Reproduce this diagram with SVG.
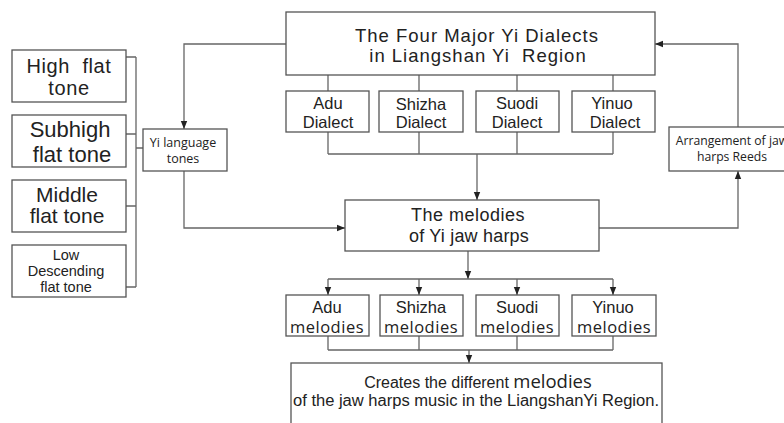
<svg xmlns="http://www.w3.org/2000/svg" width="784" height="423" viewBox="0 0 784 423">
<style>
.box{fill:#fff;stroke:#555;stroke-width:1.3}
.ln{fill:none;stroke:#666;stroke-width:1.3}
.t{font-family:"Liberation Sans",Arial,sans-serif;fill:#222;text-anchor:middle}
.o{font-family:"Open Sans","Liberation Sans",sans-serif;fill:#222;text-anchor:middle}
</style>
<defs>
<marker id="ah" viewBox="0 0 8 8" refX="8" refY="4" markerWidth="8" markerHeight="8" markerUnits="userSpaceOnUse" orient="auto">
<path d="M0,0.8 L8,4 L0,7.2 Z" fill="#222"/>
</marker>
</defs>
<rect width="784" height="423" fill="#fff"/>
<g id="connectors">
<path class="ln" d="M286,44 H184 V129" marker-end="url(#ah)"/>
<path class="ln" d="M328,75 V91 M419,75 V91 M517,75 V91 M613,75 V91"/>
<path class="ln" d="M328,132 V154 M419,132 V154 M517,132 V154 M613,132 V154 M328,154 H613"/>
<path class="ln" d="M477,154 V200" marker-end="url(#ah)"/>
<path class="ln" d="M184,171 V228 H345" marker-end="url(#ah)"/>
<path class="ln" d="M599,228 H738 V171" marker-end="url(#ah)"/>
<path class="ln" d="M738,127 V44 H655" marker-end="url(#ah)"/>
<path class="ln" d="M468,251 V279" marker-end="url(#ah)"/>
<path class="ln" d="M328,279 H613"/>
<path class="ln" d="M328,279 V295" marker-end="url(#ah)"/>
<path class="ln" d="M419,279 V295" marker-end="url(#ah)"/>
<path class="ln" d="M517,279 V295" marker-end="url(#ah)"/>
<path class="ln" d="M613,279 V295" marker-end="url(#ah)"/>
<path class="ln" d="M328,336 V350 M419,336 V350 M517,336 V350 M613,336 V350 M328,350 H613"/>
<path class="ln" d="M469,350 V363" marker-end="url(#ah)"/>
<path class="ln" d="M126,57 H136 M126,134 H136 M126,206 H136 M126,287 H136 M136,57 V287 M136,148 H143"/>
</g>
<g id="high-flat-tone">
<rect class="box" x="12" y="50" width="114" height="52"/>
<text class="t" x="69" y="73" font-size="20" letter-spacing="0.6" xml:space="preserve">High  flat</text>
<text class="t" x="69" y="95" font-size="20" letter-spacing="0.6">tone</text>
</g>
<g id="subhigh-flat-tone">
<rect class="box" x="12" y="115" width="114" height="52"/>
<text class="t" x="70" y="137" font-size="22">Subhigh</text>
<text class="t" x="72" y="162" font-size="22">flat tone</text>
</g>
<g id="middle-flat-tone">
<rect class="box" x="12" y="180" width="114" height="52"/>
<text class="t" x="67" y="202" font-size="21">Middle</text>
<text class="t" x="67" y="223" font-size="21">flat tone</text>
</g>
<g id="low-descending-flat-tone">
<rect class="box" x="12" y="245" width="114" height="52"/>
<text class="t" x="66" y="260" font-size="14.5">Low</text>
<text class="t" x="66" y="276" font-size="14.5">Descending</text>
<text class="t" x="66" y="292" font-size="14.5">flat tone</text>
</g>
<g id="yi-language-tones">
<rect class="box" x="143" y="129" width="84" height="42"/>
<text class="o" x="183" y="147" font-size="12.5">Yi language</text>
<text class="o" x="183" y="163" font-size="12.5">tones</text>
</g>
<g id="four-dialects">
<rect class="box" x="286" y="12" width="369" height="63"/>
<text class="t" x="477" y="42" font-size="18.5" letter-spacing="1">The Four Major Yi Dialects</text>
<text class="t" x="478" y="62" font-size="18.5" letter-spacing="1" xml:space="preserve">in Liangshan Yi  Region</text>
</g>
<g id="adu-dialect">
<rect class="box" x="286" y="91" width="83" height="41"/>
<text class="t" x="328" y="109" font-size="16.5">Adu</text>
<text class="t" x="328" y="128" font-size="16.5">Dialect</text>
</g>
<g id="shizha-dialect">
<rect class="box" x="379" y="91" width="84" height="41"/>
<text class="t" x="421" y="110" font-size="16.5">Shizha</text>
<text class="t" x="421" y="128" font-size="16.5">Dialect</text>
</g>
<g id="suodi-dialect">
<rect class="box" x="476" y="91" width="83" height="41"/>
<text class="t" x="517" y="109" font-size="16.5">Suodi</text>
<text class="t" x="517" y="128" font-size="16.5">Dialect</text>
</g>
<g id="yinuo-dialect">
<rect class="box" x="572" y="91" width="83" height="41"/>
<text class="t" x="612" y="109" font-size="16.5">Yinuo</text>
<text class="t" x="615" y="128" font-size="16.5">Dialect</text>
</g>
<g id="arrangement">
<rect class="box" x="669" y="127" width="126" height="44"/>
<text class="o" x="732" y="145" font-size="12.2">Arrangement of jaw</text>
<text class="o" x="732" y="161" font-size="12.2">harps Reeds</text>
</g>
<g id="melodies-of-yi-jaw-harps">
<rect class="box" x="345" y="200" width="254" height="51"/>
<text class="t" x="468" y="221" font-size="18" letter-spacing="0.5">The melodies</text>
<text class="t" x="469" y="242" font-size="18" letter-spacing="0.2">of Yi jaw harps</text>
</g>
<g id="adu-melodies">
<rect class="box" x="286" y="295" width="83" height="41"/>
<text class="t" x="327" y="313" font-size="16.5">Adu</text>
<text class="o" x="327" y="333" font-size="16.5" letter-spacing="0.5">melodies</text>
</g>
<g id="shizha-melodies">
<rect class="box" x="380" y="295" width="83" height="41"/>
<text class="t" x="421" y="313" font-size="16.5">Shizha</text>
<text class="o" x="421" y="333" font-size="16.5" letter-spacing="0.5">melodies</text>
</g>
<g id="suodi-melodies">
<rect class="box" x="476" y="295" width="83" height="41"/>
<text class="t" x="517" y="313" font-size="16.5">Suodi</text>
<text class="o" x="517" y="333" font-size="16.5" letter-spacing="0.5">melodies</text>
</g>
<g id="yinuo-melodies">
<rect class="box" x="572" y="295" width="84" height="41"/>
<text class="t" x="613" y="313" font-size="16.5">Yinuo</text>
<text class="o" x="614" y="333" font-size="16.5" letter-spacing="0.5">melodies</text>
</g>
<g id="creates-different-melodies">
<rect class="box" x="291" y="363" width="371" height="80"/>
<text class="t" x="478" y="388" font-size="16">Creates the different <tspan class="o" font-size="18.5">melodies</tspan></text>
<text class="t" x="476" y="406" font-size="16" textLength="366" lengthAdjust="spacingAndGlyphs">of the jaw harps music in the LiangshanYi Region.</text>
</g>
</svg>
